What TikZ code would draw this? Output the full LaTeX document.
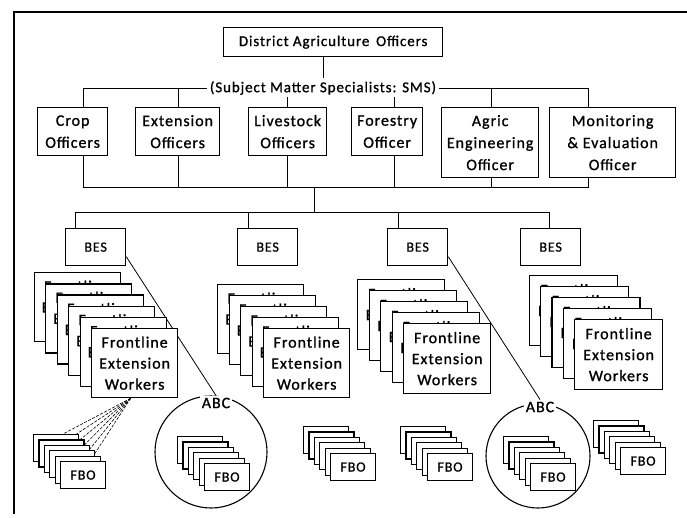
\documentclass[tikz,border=0pt]{standalone}
\usepackage{fontspec}
\setmainfont[LetterSpace=6,FakeBold=1]{Carlito}
\usetikzlibrary{calc}
\begin{document}
\begin{tikzpicture}[x=1pt,y=-1pt,
  box/.style={draw, line width=1.3pt, fill=white, inner sep=0pt, align=center},
  offbox/.style={box, anchor=north west, font=\fontsize{16}{22}\selectfont},
  besbox/.style={box, anchor=north west, minimum width=60pt, minimum height=37pt, font=\fontsize{14}{16}\selectfont},
  fewbox/.style={box, anchor=north west, minimum width=86pt, minimum height=69pt, font=\fontsize{16}{21}\selectfont},
  fbobox/.style={box, line width=1.1pt, anchor=north west, minimum width=45pt, minimum height=27pt, font=\fontsize{14}{16}\selectfont},
  conn/.style={line width=0.8pt},
  dconn/.style={line width=0.6pt, dash pattern=on 3pt off 1.5pt},
  lbl/.style={fill=white, inner sep=3pt, font=\fontsize{15}{18}\selectfont},
]
\useasboundingbox (0,0) rectangle (687,518);
% frame
\draw[line width=1.4pt] (687,12) -- (14,12) -- (14,514);

% top
\node[box, anchor=north west, minimum width=219pt, minimum height=29pt, font=\fontsize{15}{18}\selectfont] (dao) at (223,27) {District Agriculture\, Officers};
\node[lbl] (sms) at (323,88) {(Subject Matter Specialists: SMS)};
\draw[conn] (sms.north |- dao.south) -- (sms.north);

% officers
\node[offbox, minimum width=70pt, minimum height=48pt] (crop) at (37,107) {Crop\\Officers};
\node[offbox, minimum width=84pt, minimum height=48pt] (ext) at (135,107) {Extension\\Officers};
\node[offbox, minimum width=78pt, minimum height=48pt] (live) at (248,107) {Livestock\\Officers};
\node[offbox, minimum width=71pt, minimum height=48pt] (fore) at (351,107) {Forestry\\Officer};
\node[offbox, minimum width=97pt, minimum height=70pt] (agr) at (441,107) {Agric\\Engineering\\Officer};
\node[offbox, minimum width=126pt, minimum height=70pt] (mon) at (549,107) {Monitoring\\\& Evaluation\\Officer};

\coordinate (tc) at (83,88);
\coordinate (te) at (178,88);
\coordinate (ta) at (491,88);
\coordinate (tm) at (588,88);
\coordinate (tl) at (287,97);
\coordinate (tf) at (394,97);
\draw[conn] (sms.west) -- (tc) -- (tc |- crop.north);
\draw[conn] (te) -- (te |- ext.north);
\draw[conn] (sms.east) -- (tm) -- (tm |- mon.north);
\draw[conn] (ta) -- (ta |- agr.north);
\draw[conn] (tl) -- (tl |- live.north);
\draw[conn] (tf) -- (tf |- fore.north);

\coordinate (bc) at (83,187);
\coordinate (bm) at (588,187);
\coordinate (mid) at (314,187);
\draw[conn] (crop.south -| bc) -- (bc) -- (bm) -- (mon.south -| bm);
\draw[conn] (ext.south -| te) -- (te |- bc);
\draw[conn] (live.south -| tl) -- (tl |- bc);
\draw[conn] (fore.south -| tf) -- (tf |- bc);
\draw[conn] (agr.south -| ta) -- (ta |- bc);

% BES
\node[besbox] (bes1) at (65,228) {BES};
\node[besbox] (bes2) at (237,228) {BES};
\node[besbox] (bes3) at (387,228) {BES};
\node[besbox] (bes4) at (520,228) {BES};
\coordinate (j1) at (75,212);
\coordinate (j2) at (248,212);
\coordinate (j3) at (398,212);
\coordinate (j4) at (549,212);
\draw[conn] (mid) -- (mid |- j1);
\draw[conn] (j1) -- (j4);
\draw[conn] (j1) -- (j1 |- bes1.north);
\draw[conn] (j2) -- (j2 |- bes2.north);
\draw[conn] (j3) -- (j3 |- bes3.north);
\draw[conn] (j4) -- (j4 |- bes4.north);

% ABC circles
\node[draw, circle, line width=1.1pt, minimum size=112pt, inner sep=0pt] (c1) at (211,452) {};
\node[draw, circle, line width=1.1pt, minimum size=104pt, inner sep=0pt] (c2) at (538,456) {};
\node[lbl, font=\fontsize{16}{18}\selectfont, inner sep=2pt] (abc1) at (216,403) {ABC};
\node[lbl, font=\fontsize{16}{18}\selectfont, inner sep=2pt] (abc2) at (540,407) {ABC};
\draw[conn] ($(bes1.east)!0.5!(bes1.south east)$) -- (abc1.north);
\draw[conn] ($(bes3.east)!0.5!(bes3.south east)$) -- (abc2.north);

% Frontline extension worker stacks
\foreach \k in {0,...,4} {
  \node[fewbox] (s1b\k) at ({91-(5-\k)*11.5},{328-(5-\k)*11.2}) {Frontline\\Extension\\Workers};
}
\node[fewbox] (few1) at (91,328) {Frontline\\Extension\\Workers};
\foreach \k in {0,...,3} {
  \node[fewbox] (s2b\k) at ({263-(4-\k)*11.5},{328-(4-\k)*11}) {Frontline\\Extension\\Workers};
}
\node[fewbox] (few2) at (263,328) {Frontline\\Extension\\Workers};
\foreach \k in {0,...,3} {
  \node[fewbox, minimum width=87pt, minimum height=70pt] (s3b\k) at ({403-(4-\k)*11.5},{323-(4-\k)*11}) {Frontline\\Extension\\Workers};
}
\node[fewbox, minimum width=87pt, minimum height=70pt] (few3) at (403,323) {Frontline\\Extension\\Workers};
\foreach \k in {0,...,3} {
  \node[fewbox, minimum width=88pt, minimum height=70pt] (s4b\k) at ({574-(4-\k)*11.3},{319-(4-\k)*11}) {Frontline\\Extension\\Workers};
}
\node[fewbox, minimum width=88pt, minimum height=70pt] (few4) at (574,319) {Frontline\\Extension\\Workers};

% dashed fan
\foreach \k in {0,...,5} {
  \coordinate (fe\k) at ({63+\k*5.4},{434+\k*5.4});
  \draw[dconn] ($(few1.south)+(-4,0)$) -- (fe\k);
}

% FBO stacks
\foreach \n/\x/\y in {1/60/461, 2/204/463, 3/330/453, 4/427/453, 5/530/463, 6/620/447} {
  \foreach \k in {0,...,4} {
    \node[fbobox] (f\n b\k) at ({\x-(5-\k)*5.4},{\y-(5-\k)*5.4}) {FBO};
  }
  \node[fbobox] (fbo\n) at (\x,\y) {FBO};
}
\end{tikzpicture}
\end{document}
